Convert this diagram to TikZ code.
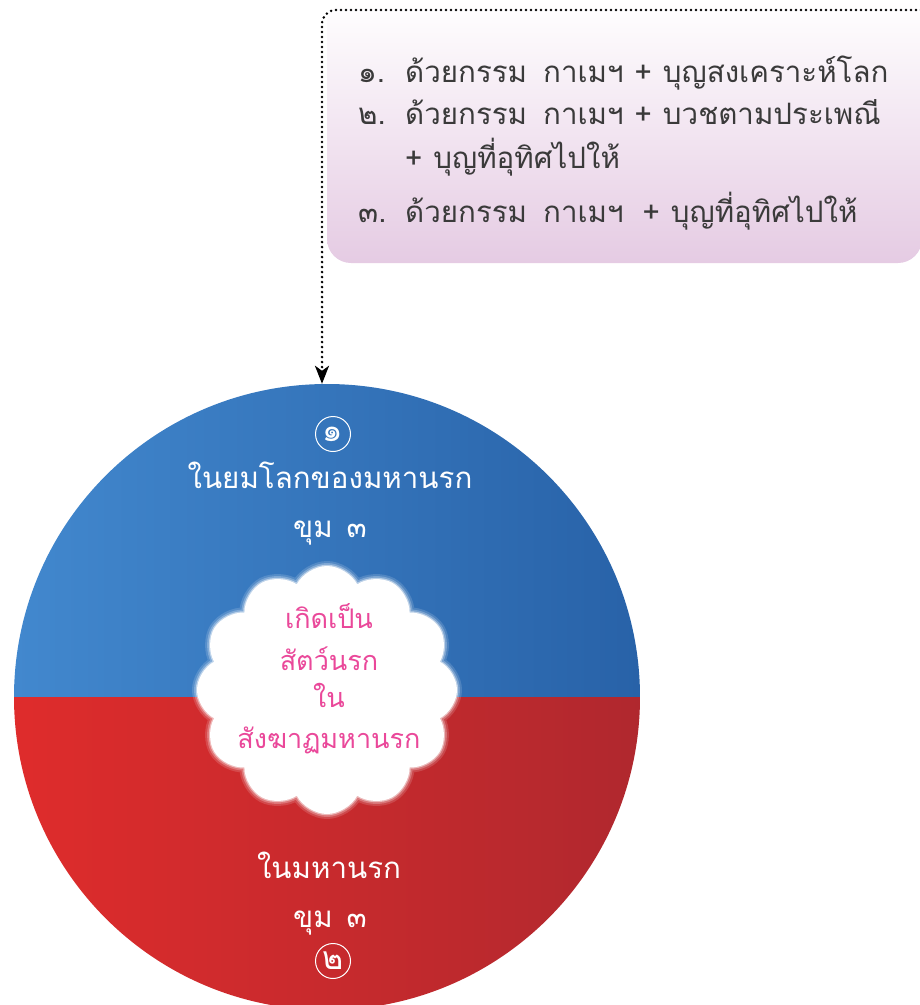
\documentclass[tikz,border=0pt]{standalone}
\usepackage{fontspec}
\newfontfamily\thai[Script=Thai]{Loma}
\usetikzlibrary{shapes.symbols,arrows.meta}
\definecolor{boxtext}{RGB}{58,58,58}
\definecolor{boxpink}{RGB}{229,203,227}
\definecolor{blueL}{RGB}{66,136,206}
\definecolor{blueR}{RGB}{40,98,168}
\definecolor{redL}{RGB}{223,44,44}
\definecolor{redR}{RGB}{176,40,46}
\definecolor{pinktext}{RGB}{234,72,154}
\newcommand{\gap}{\hspace{16pt}}
\newcommand{\pl}{\hspace{11pt}+\hspace{11pt}}
\begin{document}
\begin{tikzpicture}[x=1pt,y=-1pt,
  boxline/.style={anchor=base west, text=boxtext, font=\thai\fontsize{29.5}{36}\selectfont, inner sep=0},
  wtext/.style={anchor=base, text=white, font=\thai\fontsize{29.5}{36}\selectfont, inner sep=0},
  ptext/.style={anchor=base, text=pinktext, font=\thai\fontsize{27}{32}\selectfont, inner sep=0},
  numc/.style={circle, draw=white, line width=1pt, minimum size=35pt, inner sep=0, text=white, font=\thai\fontsize{32}{32}\selectfont},
  cloudbase/.style={cloud, cloud puffs=12, cloud puff arc=125, aspect=1.05, minimum width=260pt, minimum height=248pt, inner sep=0}]
\useasboundingbox (0,0) rectangle (920,1005);
\clip (0,0) rectangle (920,1005);
% text box
\shade[top color=white, bottom color=boxpink, rounded corners=24] (327,0) rectangle (922,263);
\node[boxline] (k1) at (358,82) {๑.};
\node[boxline] (r1) at (405,82) {ด้วยกรรม\gap กาเมฯ\pl บุญสงเคราะห์โลก};
\node[boxline] (k2) at (358,124) {๒.};
\node[boxline] (r2) at (405,124) {ด้วยกรรม\gap กาเมฯ\pl บวชตามประเพณี};
\node[boxline] (r3) at (405,168) {+\hspace{11pt}บุญที่อุทิศไปให้};
\node[boxline] (k4) at (358,222) {๓.};
\node[boxline] (r4) at (405,222) {ด้วยกรรม\gap กาเมฯ\hspace{8pt}\pl บุญที่อุทิศไปให้};
% circle
\node[circle, minimum size=626pt, inner sep=0] (circ) at (327,697) {};
\begin{scope}
\clip (327,697) circle (313);
\shade[left color=blueL, right color=blueR] (13,383) rectangle (641,697);
\shade[left color=redL, right color=redR] (13,697) rectangle (641,1011);
\end{scope}
% connector
\coordinate (ds) at (921,10);
\draw[line width=2.8pt, dash pattern=on 0pt off 5pt, line cap=round, rounded corners=14,
  -{Stealth[length=18pt,width=14pt,inset=5pt]}] (ds) -| ([xshift=-5pt]circ.north);
% cloud with soft glow
\node[cloudbase, draw=white, draw opacity=0.15, line width=10pt] (glowA) at (327,690) {};
\node[cloudbase, draw=white, draw opacity=0.25, line width=6pt] (glowB) at (327,690) {};
\node[cloudbase, fill=white, draw=white, draw opacity=0.5, line width=2.5pt] (cloud) at (327,690) {};
\node[ptext] (c1) at (329,628) {เกิดเป็น};
\node[ptext] (c2) at (329,670) {สัตว์นรก};
\node[ptext] (c3) at (329,707) {ใน};
\node[ptext] (c4) at (329,748) {สังฆาฏมหานรก};
% top half text
\node[numc] (n1) at (333,434) {๑};
\node[wtext] (t1) at (330,488) {ในยมโลกของมหานรก};
\node[wtext] (t2) at (330,537) {ขุม\hspace{14pt}๓};
% bottom half text
\node[wtext] (b1) at (329,878) {ในมหานรก};
\node[wtext] (b2) at (330,927) {ขุม\hspace{14pt}๓};
\node[numc] (n2) at (333,961) {๒};
\end{tikzpicture}
\end{document}
